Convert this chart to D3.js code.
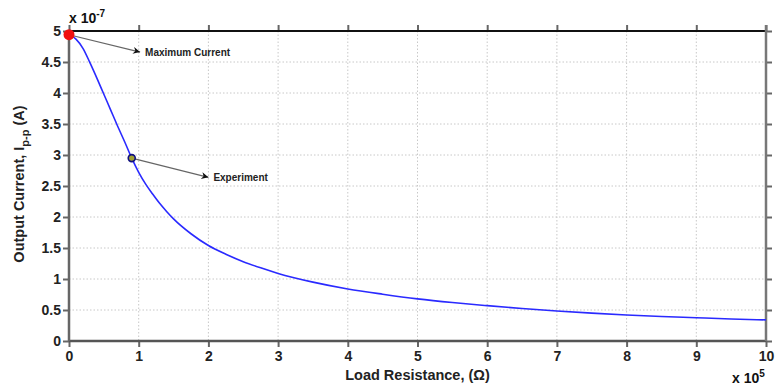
<!DOCTYPE html>
<html>
<head>
<meta charset="utf-8">
<script src="https://cdn.jsdelivr.net/npm/d3@7"></script>
<style>
  body { margin: 0; background: #fff; }
  svg { font-family: Arial, "Liberation Sans", sans-serif; font-weight: bold; }
  .grid line { stroke: #c8c8c8; stroke-dasharray: 1.5 2; }
</style>
</head>
<body>
<svg id="chart" width="776" height="385"></svg>
<script>
// curve: load resistance (x 1e5 ohm), current (x 1e-7 A)
const resistance = [0, 0.1, 0.2, 0.3, 0.4, 0.5, 0.6, 0.7, 0.8, 0.9, 1.0, 1.1, 1.2, 1.3, 1.4, 1.5,
                    1.75, 2, 2.25, 2.5, 2.75, 3, 3.5, 4, 4.5, 5, 5.5, 6, 6.5, 7, 7.5, 8, 8.5, 9, 9.5, 10];
const current    = [4.94, 4.87, 4.72, 4.49, 4.24, 3.98, 3.72, 3.46, 3.21, 2.95, 2.72, 2.53, 2.37, 2.22, 2.09, 1.97,
                    1.73, 1.54, 1.40, 1.28, 1.18, 1.09, 0.95, 0.84, 0.755, 0.68, 0.62, 0.57, 0.525, 0.485, 0.45, 0.42, 0.395, 0.375, 0.355, 0.34];

const xTicks = [0, 1, 2, 3, 4, 5, 6, 7, 8, 9, 10];
const yTicks = [0, 0.5, 1, 1.5, 2, 2.5, 3, 3.5, 4, 4.5, 5];

const maxPoint = { x: 0, y: 4.94, label: "Maximum Current", tx: 1.02, ty: 4.66 };
const expPoint = { x: 0.9, y: 2.95, label: "Experiment", tx: 2.0, ty: 2.64 };

const svg = d3.select("#chart");
const pLeft = 69, pRight = 766, pTop = 31, pBottom = 341;

const x = d3.scaleLinear().domain([0, 10]).range([pLeft, pRight]);
const y = d3.scaleLinear().domain([0, 5]).range([pBottom, pTop]);

// grid
const grid = svg.append("g").attr("class", "grid");
grid.selectAll(".gx").data(xTicks.slice(1, -1)).join("line")
    .attr("x1", d => x(d)).attr("x2", d => x(d))
    .attr("y1", pTop).attr("y2", pBottom);
grid.selectAll(".gy").data(yTicks.slice(1, -1)).join("line")
    .attr("x1", pLeft).attr("x2", pRight)
    .attr("y1", d => y(d)).attr("y2", d => y(d));

// axes
const fmt = d => String(d);
const axisStyle = g => {
    g.select(".domain").remove();
    g.selectAll(".tick line").attr("stroke", "#666").attr("stroke-width", 2);
    g.selectAll(".tick text").attr("fill", "#222").style("font-size", "14px").style("font-weight", "bold");
};
svg.append("g").attr("transform", `translate(0,${pBottom})`)
    .call(d3.axisBottom(x).tickValues(xTicks).tickFormat(fmt).tickSize(6).tickPadding(4))
    .call(axisStyle);
svg.append("g").attr("transform", `translate(${pLeft},0)`)
    .call(d3.axisLeft(y).tickValues(yTicks).tickFormat(fmt).tickSize(6).tickPadding(2))
    .call(axisStyle);
svg.append("g").attr("transform", `translate(0,${pTop})`)
    .call(d3.axisTop(x).tickValues(xTicks).tickFormat("").tickSize(6))
    .call(axisStyle);
svg.append("g").attr("transform", `translate(${pRight},0)`)
    .call(d3.axisRight(y).tickValues(yTicks).tickFormat("").tickSize(6))
    .call(axisStyle);

// frame
svg.append("line").attr("x1", pLeft).attr("x2", pRight).attr("y1", pTop).attr("y2", pTop)
    .attr("stroke", "#111").attr("stroke-width", 2);
svg.append("line").attr("x1", pLeft).attr("x2", pRight).attr("y1", pBottom).attr("y2", pBottom)
    .attr("stroke", "#555").attr("stroke-width", 2.5);
svg.append("line").attr("x1", pLeft).attr("x2", pLeft).attr("y1", pTop).attr("y2", pBottom)
    .attr("stroke", "#666").attr("stroke-width", 2.5);
svg.append("line").attr("x1", pRight).attr("x2", pRight).attr("y1", pTop - 6).attr("y2", pBottom)
    .attr("stroke", "#777").attr("stroke-width", 2.5);

// curve
const pts = resistance.map((r, i) => [r, current[i]]);
const line = d3.line().x(d => x(d[0])).y(d => y(d[1])).curve(d3.curveMonotoneX);
svg.append("path").datum(pts).attr("d", line)
    .attr("fill", "none").attr("stroke", "#2a2aff").attr("stroke-width", 1.6);

// annotations
svg.append("defs").append("marker")
    .attr("id", "arrow").attr("viewBox", "0 0 10 10").attr("refX", 10).attr("refY", 5)
    .attr("markerWidth", 10).attr("markerHeight", 7).attr("orient", "auto")
    .attr("markerUnits", "userSpaceOnUse")
    .append("path").attr("d", "M0,0 L10,5 L0,10 L3,5 Z").attr("fill", "#111");

[maxPoint, expPoint].forEach(p => {
    svg.append("line")
        .attr("x1", x(p.x)).attr("y1", y(p.y))
        .attr("x2", x(p.tx)).attr("y2", y(p.ty))
        .attr("stroke", "#666").attr("stroke-width", 1.2)
        .attr("marker-end", "url(#arrow)");
    svg.append("text").attr("x", x(p.tx) + 5).attr("y", y(p.ty) + 4)
        .attr("fill", "#222").style("font-size", "10px").text(p.label);
});

svg.append("circle").attr("cx", x(maxPoint.x)).attr("cy", y(maxPoint.y)).attr("r", 5.5)
    .attr("fill", "#f01010");
svg.append("circle").attr("cx", x(expPoint.x)).attr("cy", y(expPoint.y)).attr("r", 3.5)
    .attr("fill", "#a0a030").attr("stroke", "#101080").attr("stroke-width", 1.6);

// exponent labels
const e1 = svg.append("text").attr("x", 69).attr("y", 23).attr("fill", "#111").style("font-size", "14px");
e1.append("tspan").text("x 10");
e1.append("tspan").attr("dy", -6).style("font-size", "10px").text("-7");

const e2 = svg.append("text").attr("x", 732).attr("y", 383).attr("fill", "#111").style("font-size", "14px");
e2.append("tspan").text("x 10");
e2.append("tspan").attr("dy", -6).style("font-size", "10px").text("5");

// axis titles
svg.append("text").attr("x", (pLeft + pRight) / 2).attr("y", 380).attr("text-anchor", "middle")
    .attr("fill", "#222").style("font-size", "14.5px").text("Load Resistance, (\u03A9)");

const yt = svg.append("text").attr("transform", "translate(24,184) rotate(-90)")
    .attr("text-anchor", "middle").attr("fill", "#222").style("font-size", "14.5px");
yt.append("tspan").text("Output Current, I");
yt.append("tspan").attr("dy", 5).style("font-size", "11px").text("p-p");
yt.append("tspan").attr("dy", -5).text(" (A)");
</script>
</body>
</html>
